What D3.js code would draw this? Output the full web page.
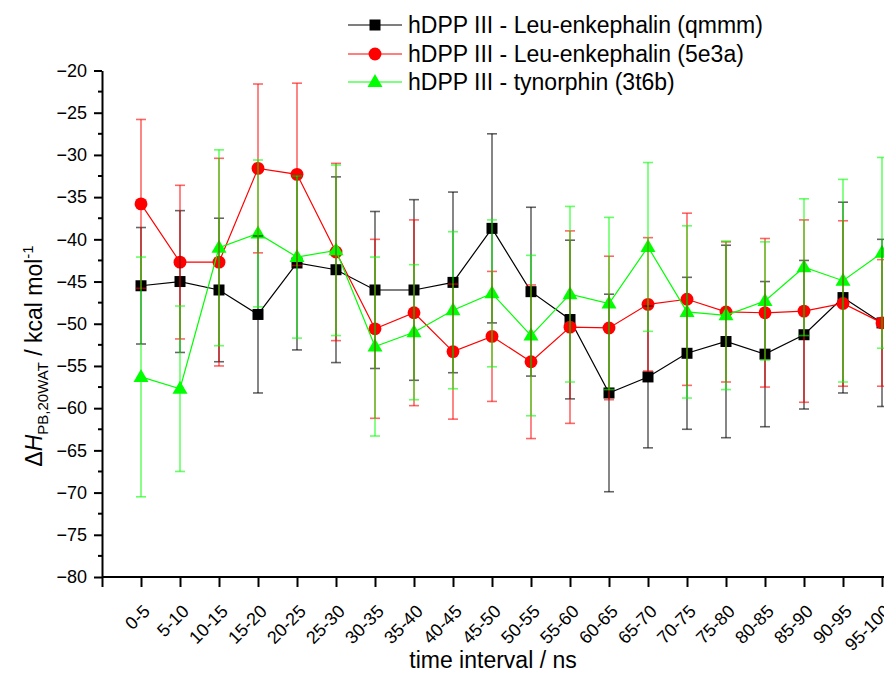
<!DOCTYPE html>
<html>
<head>
<meta charset="utf-8">
<script src="https://cdn.jsdelivr.net/npm/d3@7"></script>
<style>
  body { margin: 0; background: #fff; }
  svg { font-family: "Liberation Sans", Arial, sans-serif; }
</style>
</head>
<body>
<div id="chart"></div>
<script>
// time intervals (ns)
var categories = ["0-5", "5-10", "10-15", "15-20", "20-25", "25-30", "30-35", "35-40", "40-45", "45-50",
  "50-55", "55-60", "60-65", "65-70", "70-75", "75-80", "80-85", "85-90", "90-95", "95-100"];

// hDPP III - Leu-enkephalin (qmmm)
var qmmm = [-45.5, -45.0, -46.0, -48.9, -42.8, -43.6, -46.0, -46.0, -45.1, -38.7,
  -46.2, -49.5, -58.2, -56.3, -53.5, -52.1, -53.6, -51.3, -46.9, -49.9];
var qmmmErr = [6.9, 8.4, 8.5, 9.3, 10.3, 11.0, 9.3, 10.7, 10.7, 11.2,
  10.0, 9.4, 11.7, 8.4, 9.0, 11.4, 8.6, 8.8, 11.3, 9.9];

// hDPP III - Leu-enkephalin (5e3a)
var e3a = [-35.8, -42.7, -42.7, -31.6, -32.3, -41.5, -50.6, -48.7, -53.3, -51.5,
  -54.5, -50.4, -50.5, -47.7, -47.1, -48.6, -48.7, -48.5, -47.6, -49.9];
var e3aErr = [10.0, 9.1, 12.3, 10.0, 10.8, 10.5, 10.6, 11.0, 8.0, 7.7,
  9.1, 11.4, 8.5, 7.9, 10.2, 8.3, 8.8, 10.8, 9.8, 7.5];

// hDPP III - tynorphin (3t6b)
var t6b = [-56.3, -57.7, -41.0, -39.3, -42.1, -41.3, -52.7, -51.0, -48.4, -46.4,
  -51.4, -46.5, -47.6, -40.9, -48.6, -49.0, -47.3, -43.3, -44.9, -41.6];
var t6bErr = [14.2, 9.8, 11.6, 8.7, 9.6, 10.1, 10.6, 8.0, 9.3, 8.7,
  9.5, 10.4, 10.2, 10.0, 10.2, 8.8, 7.0, 8.1, 12.0, 11.3];

var yTicks = [-80, -75, -70, -65, -60, -55, -50, -45, -40, -35, -30, -25, -20];

var series = [
  {name: "hDPP III - Leu-enkephalin (qmmm)", values: qmmm, err: qmmmErr, color: "#000000", marker: "square"},
  {name: "hDPP III - Leu-enkephalin (5e3a)", values: e3a, err: e3aErr, color: "#ff0000", marker: "circle"},
  {name: "hDPP III - tynorphin (3t6b)", values: t6b, err: t6bErr, color: "#00ff00", marker: "triangle"}
];

var W = 884, H = 678;
var svg = d3.select("#chart").append("svg")
  .attr("width", W)
  .attr("height", H);

var x = d3.scaleLinear().domain([0, 20]).range([102, 882]);
var y = d3.scaleLinear().domain([-80, -20]).range([577, 70.5]);

// x axis
var xAxis = svg.append("g")
  .attr("transform", "translate(0," + y(-80) + ")")
  .call(d3.axisBottom(x).tickValues(d3.range(0, 21)).tickSize(10).tickSizeOuter(0)
    .tickFormat(function(d) { return d > 0 ? categories[d - 1] : ""; }));
xAxis.select(".domain").attr("d", "M" + x(0) + ",0H" + W).attr("stroke-width", 2);
xAxis.selectAll("line").attr("stroke-width", 2);
xAxis.selectAll("text")
  .attr("y", 0).attr("dy", "0.35em")
  .attr("transform", "translate(5,31) rotate(-45)")
  .style("text-anchor", "end")
  .style("font-size", "18px")
  .attr("fill", "#000");

// y axis
var yAxis = svg.append("g")
  .attr("transform", "translate(" + x(0) + ",0)")
  .call(d3.axisLeft(y).tickValues(yTicks).tickSize(8).tickSizeOuter(0).tickPadding(7));
yAxis.selectAll("line").attr("stroke-width", 2);
yAxis.select(".domain").attr("stroke-width", 2);
yAxis.selectAll("text").style("font-size", "18px").attr("fill", "#000");
// minor ticks
svg.append("g").selectAll("line")
  .data(yTicks.slice(1).map(function(d) { return d - 2.5; }))
  .enter().append("line")
  .attr("x1", x(0) - 4).attr("x2", x(0))
  .attr("y1", function(d) { return y(d); })
  .attr("y2", function(d) { return y(d); })
  .attr("stroke", "#000").attr("stroke-width", 2);

// axis titles
svg.append("text")
  .attr("x", 493).attr("y", 668)
  .attr("text-anchor", "middle")
  .style("font-size", "23px")
  .text("time interval / ns");

var yt = svg.append("text")
  .attr("transform", "translate(42,356) rotate(-90)")
  .attr("text-anchor", "middle")
  .style("font-size", "23px");
yt.append("tspan").text("\u0394");
yt.append("tspan").style("font-style", "italic").text("H");
yt.append("tspan").attr("dy", 6).style("font-size", "15px").text("PB,20WAT");
yt.append("tspan").attr("dy", -6).text(" / kcal mol");
yt.append("tspan").attr("dy", -9).style("font-size", "15px").text("-1");

function markerPath(type) {
  if (type === "square") return "M-5.5,-5.5H5.5V5.5H-5.5Z";
  if (type === "circle") return d3.symbol().type(d3.symbolCircle).size(130)();
  return "M0,-8L7.5,5L-7.5,5Z";
}

var line = d3.line()
  .x(function(d, i) { return x(i + 1); })
  .y(function(d) { return y(d); });

// lines and markers
series.forEach(function(s) {
  var g = svg.append("g");
  g.append("path")
    .attr("d", line(s.values))
    .attr("fill", "none")
    .attr("stroke", s.color)
    .attr("stroke-width", 1.2);
  g.selectAll("path.m")
    .data(s.values)
    .enter().append("path")
    .attr("class", "m")
    .attr("transform", function(d, i) { return "translate(" + x(i + 1) + "," + y(d) + ")"; })
    .attr("d", markerPath(s.marker))
    .attr("fill", s.color);
});

// error bars
series.forEach(function(s) {
  var g = svg.append("g")
    .attr("stroke", s.color)
    .attr("stroke-opacity", 0.6)
    .attr("stroke-width", 1.6);
  s.values.forEach(function(v, i) {
    var cx = x(i + 1), top = y(v + s.err[i]), bot = y(v - s.err[i]);
    g.append("line").attr("x1", cx).attr("x2", cx).attr("y1", top).attr("y2", bot);
    g.append("line").attr("x1", cx - 5).attr("x2", cx + 5).attr("y1", top).attr("y2", top);
    g.append("line").attr("x1", cx - 5).attr("x2", cx + 5).attr("y1", bot).attr("y2", bot);
  });
});

// legend
var legend = svg.append("g");
var rows = [25, 54, 82];
series.forEach(function(s, i) {
  var row = legend.append("g").attr("transform", "translate(348," + rows[i] + ")");
  row.append("line").attr("x1", 0).attr("x2", 54).attr("stroke", s.color).attr("stroke-width", 1.2);
  row.append("path").attr("transform", "translate(27,0)").attr("d", markerPath(s.marker)).attr("fill", s.color);
  row.append("text").attr("x", 60).attr("dy", "0.35em").style("font-size", "23px").text(s.name);
});
</script>
</body>
</html>
